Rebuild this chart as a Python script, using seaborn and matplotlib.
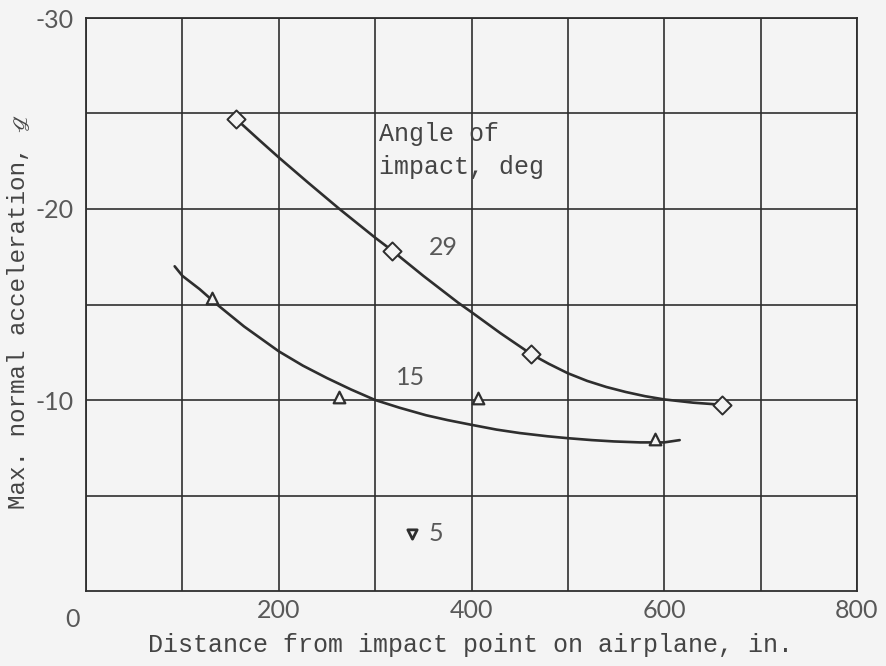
import pandas as pd
import seaborn as sns
import matplotlib.pyplot as plt

# faired curves (distance in., acceleration g)
curve29_x = [156, 180, 200, 230, 263, 300, 317, 350, 386, 400, 430, 462,
             480, 500, 520, 540, 560, 580, 600, 630, 660]
curve29_y = [-24.7, -23.6, -22.7, -21.4, -20.0, -18.5, -17.85, -16.5, -15.1, -14.6, -13.5, -12.4,
             -11.9, -11.4, -11.0, -10.68, -10.42, -10.2, -10.03, -9.86, -9.75]
curve15_x = [92, 100, 118, 136, 164, 200, 225, 250, 275, 300, 325, 353,
             375, 400, 426, 450, 479, 500, 525, 548, 575, 600, 616]
curve15_y = [-17.0, -16.5, -15.8, -15.0, -13.85, -12.55, -11.8, -11.15, -10.55, -10.0, -9.6, -9.2,
             -8.95, -8.7, -8.45, -8.27, -8.1, -8.0, -7.9, -7.83, -7.78, -7.78, -7.9]

# test points
pts29_x = [156, 317, 462, 660]
pts29_y = [-24.7, -17.8, -12.4, -9.75]
pts15_x = [131, 262, 407, 590]
pts15_y = [-15.35, -10.15, -10.1, -7.97]
pts5_x = [338]
pts5_y = [-3.0]

x_ticks = [0, 200, 400, 600, 800]
y_ticks = [-30, -20, -10]

ink = "#2e2e2e"
paper = "#f4f4f4"
soft = "#585858"
mono = ["Liberation Mono", "STIXGeneral", "DejaVu Sans"]
sans = ["Lato", "DejaVu Sans"]

sns.set_style("white")
plt.rcParams["font.family"] = sans

curves = pd.concat([
    pd.DataFrame({"distance": curve29_x, "accel": curve29_y, "angle": "29"}),
    pd.DataFrame({"distance": curve15_x, "accel": curve15_y, "angle": "15"}),
])

fig = plt.figure(figsize=(8.86, 6.66), dpi=100, facecolor=paper)
ax = fig.add_axes([86 / 886, 1 - 591 / 666, 771 / 886, 573 / 666])
ax.set_facecolor(paper)

sns.lineplot(data=curves, x="distance", y="accel", hue="angle", units="angle",
             estimator=None, palette={"29": ink, "15": ink}, linewidth=1.9,
             legend=False, ax=ax, zorder=3)
sns.scatterplot(x=pts29_x, y=pts29_y, marker="D", s=85, color=paper,
                edgecolor=ink, linewidth=1.4, ax=ax, zorder=4)
sns.scatterplot(x=pts15_x, y=pts15_y, marker="^", s=70, color=paper,
                edgecolor=ink, linewidth=1.6, ax=ax, zorder=4)
sns.scatterplot(x=pts5_x, y=pts5_y, marker="v", s=45, color=paper,
                edgecolor=ink, linewidth=2.0, ax=ax, zorder=4)

ax.set_xlim(0, 800)
ax.set_ylim(0, -30)
ax.set_xticks(x_ticks)
ax.set_xticklabels([""] + [str(v) for v in x_ticks[1:]])
ax.set_xticks(range(100, 800, 200), minor=True)
ax.set_yticks(y_ticks)
ax.set_yticklabels(["-30", "-20", "-10"])
ax.set_yticks([-25, -15, -5], minor=True)
ax.tick_params(axis="both", which="both", length=0, colors=soft, labelsize=18)
ax.tick_params(axis="x", pad=6)
ax.tick_params(axis="y", pad=9)
ax.grid(True, which="both", color=ink, linewidth=1.2)
for sp in ax.spines.values():
    sp.set_color(ink)
    sp.set_linewidth(1.3)
ax.set_xlabel("")
ax.set_ylabel("")

# origin label sits off to the lower left
ax.text(-14, 1.5, "0", ha="center", va="center", fontsize=18, color=soft)

ax.text(304, -23.95, "Angle of", family=mono, fontsize=18, color="#444444",
        va="center", ha="left")
ax.text(304, -22.2, "impact, deg", family=mono, fontsize=18, color="#444444",
        va="center", ha="left")
ax.text(371, -18.0, "29", fontsize=18, color=soft, ha="center", va="center")
ax.text(337, -11.2, "15", fontsize=18, color=soft, ha="center", va="center")
ax.text(355, -3.0, "5", fontsize=18, color=soft, ha="left", va="center")

fig.text(470 / 886, 1 - 645 / 666, "Distance from impact point on airplane, in.",
         family=mono, fontsize=18, color="#444444", ha="center", va="center")
fig.text(19 / 886, 1 - 312 / 666, "Max. normal acceleration, \u210a",
         family=mono, fontsize=17.5, color="#444444", ha="center", va="center",
         rotation=90)

plt.savefig("out.png", dpi=100, facecolor=paper)
